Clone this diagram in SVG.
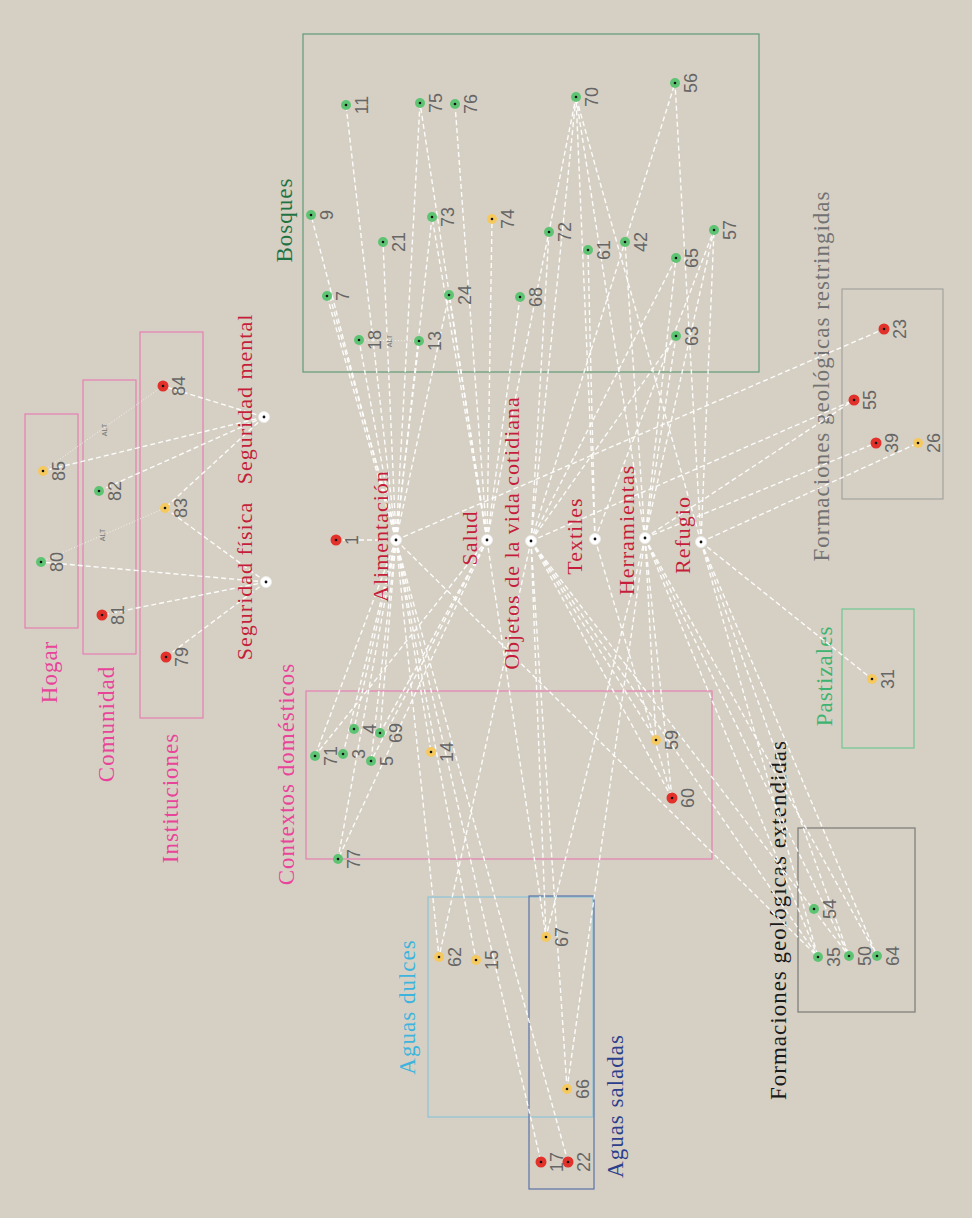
<svg xmlns="http://www.w3.org/2000/svg" width="972" height="1218" viewBox="0 0 972 1218">
<style>
.e{stroke:#ffffff;stroke-width:1.4;stroke-dasharray:5 3;fill:none;opacity:0.92}
.alt{stroke:#f2f2f2;stroke-width:1;stroke-dasharray:1 2;fill:none}
.altl{font-family:"Liberation Sans",Arial,sans-serif;font-size:7px;fill:#777;text-anchor:middle}
.num{font-family:"Liberation Sans",Arial,sans-serif;font-size:18px;fill:#666;text-anchor:middle}
.hl{font-family:"Liberation Serif","Times New Roman",serif;font-size:22px;fill:#c41e3a;letter-spacing:1px;text-anchor:middle}
.cl{font-family:"Liberation Serif","Times New Roman",serif;font-size:23px;letter-spacing:1px;text-anchor:middle}
.box{fill:none;stroke-width:1.2}
.g{fill:#5ec473}.r{fill:#e2312a}.y{fill:#f6c95e}.d{fill:#111}
.hub{fill:#fff;stroke:#eeeeee;stroke-width:0.8}
</style>
<rect x="0" y="0" width="972" height="1218" fill="#d6d0c4"/>

<g id="boxes">
<rect id="box-bosques" class="box" x="303" y="34" width="456" height="338" stroke="#5f9b77"/>
<rect id="box-hogar" class="box" x="25" y="414" width="53" height="214" stroke="#e77fb3"/>
<rect id="box-comunidad" class="box" x="83" y="380" width="53" height="274" stroke="#e77fb3"/>
<rect id="box-instituciones" class="box" x="140" y="332" width="63" height="386" stroke="#e77fb3"/>
<rect id="box-contextos" class="box" x="306" y="691" width="406" height="168" stroke="#e77fb3"/>
<rect id="box-dulces" class="box" x="428" y="897" width="165" height="220" stroke="#8cc4d8"/>
<rect id="box-saladas" class="box" x="529" y="896" width="65" height="293" stroke="#5b74a8"/>
<rect id="box-restringidas" class="box" x="842" y="289" width="101" height="210" stroke="#a3a3a0"/>
<rect id="box-pastizales" class="box" x="842" y="609" width="72" height="139" stroke="#6fc792"/>
<rect id="box-extendidas" class="box" x="798" y="828" width="117" height="184" stroke="#7a7a78"/>
</g>

<g id="category-labels">
<text class="cl" fill="#1f7343" transform="translate(291.5,220) rotate(-90)">Bosques</text>
<text class="cl" fill="#e8449a" transform="translate(57,672) rotate(-90)">Hogar</text>
<text class="cl" fill="#e8449a" transform="translate(114,724) rotate(-90)">Comunidad</text>
<text class="cl" fill="#e8449a" transform="translate(178,798) rotate(-90)">Instituciones</text>
<text class="cl" fill="#e8449a" transform="translate(294,774) rotate(-90)">Contextos domésticos</text>
<text class="cl" fill="#3db4dd" transform="translate(415,1007) rotate(-90)">Aguas dulces</text>
<text class="cl" fill="#2c3f8c" transform="translate(623,1106) rotate(-90)">Aguas saladas</text>
<text class="cl" fill="#3db371" transform="translate(832,676) rotate(-90)">Pastizales</text>
<text class="cl" fill="#727272" transform="translate(829,376) rotate(-90)">Formaciones geológicas restringidas</text>
<text class="cl" fill="#1a1a1a" transform="translate(786,920) rotate(-90)">Formaciones geológicas extendidas</text>
</g>

<g id="connectors">
<line class="alt" x1="43" y1="471" x2="163" y2="386"/>
<line class="alt" x1="41" y1="562" x2="165" y2="508"/>
<line class="alt" x1="359" y1="340" x2="419" y2="341"/>
<line class="e" x1="264" y1="417" x2="163" y2="386"/>
<line class="e" x1="264" y1="417" x2="43" y2="471"/>
<line class="e" x1="264" y1="417" x2="99" y2="491"/>
<line class="e" x1="264" y1="417" x2="165" y2="508"/>
<line class="e" x1="266" y1="582" x2="41" y2="562"/>
<line class="e" x1="266" y1="582" x2="102" y2="615"/>
<line class="e" x1="266" y1="582" x2="165" y2="508"/>
<line class="e" x1="266" y1="582" x2="166" y2="657"/>
<line class="e" x1="396" y1="540" x2="336" y2="540"/>
<line class="e" x1="396" y1="540" x2="311" y2="215"/>
<line class="e" x1="396" y1="540" x2="346" y2="105"/>
<line class="e" x1="396" y1="540" x2="327" y2="296"/>
<line class="e" x1="398" y1="540" x2="330" y2="297"/>
<line class="e" x1="396" y1="540" x2="359" y2="340"/>
<line class="e" x1="396" y1="540" x2="419" y2="341"/>
<line class="e" x1="396" y1="540" x2="383" y2="242"/>
<line class="e" x1="396" y1="540" x2="432" y2="217"/>
<line class="e" x1="396" y1="540" x2="449" y2="295"/>
<line class="e" x1="396" y1="540" x2="420" y2="103"/>
<line class="e" x1="396" y1="540" x2="315" y2="756"/>
<line class="e" x1="396" y1="540" x2="343" y2="754"/>
<line class="e" x1="396" y1="540" x2="354" y2="729"/>
<line class="e" x1="396" y1="540" x2="380" y2="733"/>
<line class="e" x1="396" y1="540" x2="371" y2="761"/>
<line class="e" x1="396" y1="540" x2="338" y2="859"/>
<line class="e" x1="396" y1="540" x2="431" y2="752"/>
<line class="e" x1="396" y1="540" x2="439" y2="957"/>
<line class="e" x1="396" y1="540" x2="476" y2="960"/>
<line class="e" x1="396" y1="540" x2="541" y2="1162"/>
<line class="e" x1="396" y1="540" x2="568" y2="1162"/>
<line class="e" x1="396" y1="540" x2="818" y2="957"/>
<line class="e" x1="396" y1="540" x2="884" y2="329"/>
<line class="e" x1="487" y1="540" x2="420" y2="103"/>
<line class="e" x1="487" y1="540" x2="455" y2="104"/>
<line class="e" x1="487" y1="540" x2="432" y2="217"/>
<line class="e" x1="487" y1="540" x2="449" y2="295"/>
<line class="e" x1="487" y1="540" x2="492" y2="219"/>
<line class="e" x1="487" y1="540" x2="520" y2="297"/>
<line class="e" x1="487" y1="540" x2="576" y2="97"/>
<line class="e" x1="487" y1="540" x2="315" y2="756"/>
<line class="e" x1="487" y1="540" x2="380" y2="733"/>
<line class="e" x1="487" y1="540" x2="371" y2="761"/>
<line class="e" x1="487" y1="540" x2="338" y2="859"/>
<line class="e" x1="487" y1="540" x2="546" y2="937"/>
<line class="e" x1="531" y1="541" x2="576" y2="97"/>
<line class="e" x1="531" y1="541" x2="549" y2="232"/>
<line class="e" x1="531" y1="541" x2="675" y2="83"/>
<line class="e" x1="531" y1="541" x2="676" y2="258"/>
<line class="e" x1="531" y1="541" x2="676" y2="336"/>
<line class="e" x1="531" y1="541" x2="439" y2="957"/>
<line class="e" x1="531" y1="541" x2="546" y2="937"/>
<line class="e" x1="531" y1="541" x2="567" y2="1089"/>
<line class="e" x1="531" y1="541" x2="656" y2="740"/>
<line class="e" x1="531" y1="541" x2="672" y2="798"/>
<line class="e" x1="531" y1="541" x2="818" y2="957"/>
<line class="e" x1="531" y1="541" x2="849" y2="956"/>
<line class="e" x1="531" y1="541" x2="854" y2="400"/>
<line class="e" x1="595" y1="539" x2="576" y2="97"/>
<line class="e" x1="595" y1="539" x2="588" y2="250"/>
<line class="e" x1="595" y1="539" x2="714" y2="230"/>
<line class="e" x1="595" y1="539" x2="672" y2="798"/>
<line class="e" x1="645" y1="538" x2="576" y2="97"/>
<line class="e" x1="645" y1="538" x2="625" y2="242"/>
<line class="e" x1="645" y1="538" x2="714" y2="230"/>
<line class="e" x1="645" y1="538" x2="676" y2="258"/>
<line class="e" x1="645" y1="538" x2="676" y2="336"/>
<line class="e" x1="645" y1="538" x2="546" y2="937"/>
<line class="e" x1="645" y1="538" x2="567" y2="1089"/>
<line class="e" x1="645" y1="538" x2="656" y2="740"/>
<line class="e" x1="645" y1="538" x2="672" y2="798"/>
<line class="e" x1="645" y1="538" x2="818" y2="957"/>
<line class="e" x1="645" y1="538" x2="849" y2="956"/>
<line class="e" x1="645" y1="538" x2="877" y2="956"/>
<line class="e" x1="645" y1="538" x2="876" y2="443"/>
<line class="e" x1="645" y1="538" x2="854" y2="400"/>
<line class="e" x1="701" y1="542" x2="576" y2="97"/>
<line class="e" x1="701" y1="542" x2="675" y2="83"/>
<line class="e" x1="701" y1="542" x2="714" y2="230"/>
<line class="e" x1="701" y1="542" x2="872" y2="679"/>
<line class="e" x1="701" y1="542" x2="918" y2="443"/>
<line class="e" x1="701" y1="542" x2="818" y2="957"/>
<line class="e" x1="701" y1="542" x2="849" y2="956"/>
<line class="e" x1="701" y1="542" x2="877" y2="956"/>
</g>

<g id="alt-labels">
<text class="altl" transform="translate(107,430) rotate(-90)">ALT</text>
<text class="altl" transform="translate(105,535) rotate(-90)">ALT</text>
<text class="altl" transform="translate(392,341) rotate(-90)">ALT</text>
</g>

<g id="hubs">
<g id="hub-seguridad-mental"><circle class="hub" cx="264" cy="417" r="5.5"/><circle class="d" cx="264" cy="417" r="1.4"/><text class="hl" transform="translate(252,399) rotate(-90)">Seguridad mental</text></g>
<g id="hub-seguridad-fisica"><circle class="hub" cx="266" cy="582" r="5.5"/><circle class="d" cx="266" cy="582" r="1.4"/><text class="hl" transform="translate(252,581) rotate(-90)">Seguridad física</text></g>
<g id="hub-alimentacion"><circle class="hub" cx="396" cy="540" r="5.5"/><circle class="d" cx="396" cy="540" r="1.4"/><text class="hl" transform="translate(388,536) rotate(-90)">Alimentación</text></g>
<g id="hub-salud"><circle class="hub" cx="487" cy="540" r="5.5"/><circle class="d" cx="487" cy="540" r="1.4"/><text class="hl" transform="translate(477,538) rotate(-90)">Salud</text></g>
<g id="hub-objetos"><circle class="hub" cx="531" cy="541" r="5.5"/><circle class="d" cx="531" cy="541" r="1.4"/><text class="hl" transform="translate(519,533) rotate(-90)">Objetos de la vida cotidiana</text></g>
<g id="hub-textiles"><circle class="hub" cx="595" cy="539" r="5.5"/><circle class="d" cx="595" cy="539" r="1.4"/><text class="hl" transform="translate(582,536) rotate(-90)">Textiles</text></g>
<g id="hub-herramientas"><circle class="hub" cx="645" cy="538" r="5.5"/><circle class="d" cx="645" cy="538" r="1.4"/><text class="hl" transform="translate(634,530) rotate(-90)">Herramientas</text></g>
<g id="hub-refugio"><circle class="hub" cx="701" cy="542" r="5.5"/><circle class="d" cx="701" cy="542" r="1.4"/><text class="hl" transform="translate(690,535) rotate(-90)">Refugio</text></g>
</g>

<g id="nodes">
<g id="n85"><circle class="y" cx="43" cy="471" r="5"/><circle class="d" cx="43" cy="471" r="1.3"/><text class="num" transform="translate(65,471) rotate(-90)">85</text></g>
<g id="n80"><circle class="g" cx="41" cy="562" r="5"/><circle class="d" cx="41" cy="562" r="1.3"/><text class="num" transform="translate(63,562) rotate(-90)">80</text></g>
<g id="n82"><circle class="g" cx="99" cy="491" r="5"/><circle class="d" cx="99" cy="491" r="1.3"/><text class="num" transform="translate(121,491) rotate(-90)">82</text></g>
<g id="n81"><circle class="r" cx="102" cy="615" r="5.5"/><circle class="d" cx="102" cy="615" r="1.3"/><text class="num" transform="translate(124,615) rotate(-90)">81</text></g>
<g id="n84"><circle class="r" cx="163" cy="386" r="5.5"/><circle class="d" cx="163" cy="386" r="1.3"/><text class="num" transform="translate(185,386) rotate(-90)">84</text></g>
<g id="n83"><circle class="y" cx="165" cy="508" r="5"/><circle class="d" cx="165" cy="508" r="1.3"/><text class="num" transform="translate(187,508) rotate(-90)">83</text></g>
<g id="n79"><circle class="r" cx="166" cy="657" r="5.5"/><circle class="d" cx="166" cy="657" r="1.3"/><text class="num" transform="translate(188,657) rotate(-90)">79</text></g>
<g id="n1"><circle class="r" cx="336" cy="540" r="5.5"/><circle class="d" cx="336" cy="540" r="1.3"/><text class="num" transform="translate(358,540) rotate(-90)">1</text></g>
<g id="n11"><circle class="g" cx="346" cy="105" r="5"/><circle class="d" cx="346" cy="105" r="1.3"/><text class="num" transform="translate(368,105) rotate(-90)">11</text></g>
<g id="n75"><circle class="g" cx="420" cy="103" r="5"/><circle class="d" cx="420" cy="103" r="1.3"/><text class="num" transform="translate(442,103) rotate(-90)">75</text></g>
<g id="n76"><circle class="g" cx="455" cy="104" r="5"/><circle class="d" cx="455" cy="104" r="1.3"/><text class="num" transform="translate(477,104) rotate(-90)">76</text></g>
<g id="n70"><circle class="g" cx="576" cy="97" r="5"/><circle class="d" cx="576" cy="97" r="1.3"/><text class="num" transform="translate(598,97) rotate(-90)">70</text></g>
<g id="n56"><circle class="g" cx="675" cy="83" r="5"/><circle class="d" cx="675" cy="83" r="1.3"/><text class="num" transform="translate(697,83) rotate(-90)">56</text></g>
<g id="n9"><circle class="g" cx="311" cy="215" r="5"/><circle class="d" cx="311" cy="215" r="1.3"/><text class="num" transform="translate(333,215) rotate(-90)">9</text></g>
<g id="n73"><circle class="g" cx="432" cy="217" r="5"/><circle class="d" cx="432" cy="217" r="1.3"/><text class="num" transform="translate(454,217) rotate(-90)">73</text></g>
<g id="n74"><circle class="y" cx="492" cy="219" r="5"/><circle class="d" cx="492" cy="219" r="1.3"/><text class="num" transform="translate(514,219) rotate(-90)">74</text></g>
<g id="n21"><circle class="g" cx="383" cy="242" r="5"/><circle class="d" cx="383" cy="242" r="1.3"/><text class="num" transform="translate(405,242) rotate(-90)">21</text></g>
<g id="n72"><circle class="g" cx="549" cy="232" r="5"/><circle class="d" cx="549" cy="232" r="1.3"/><text class="num" transform="translate(571,232) rotate(-90)">72</text></g>
<g id="n61"><circle class="g" cx="588" cy="250" r="5"/><circle class="d" cx="588" cy="250" r="1.3"/><text class="num" transform="translate(610,250) rotate(-90)">61</text></g>
<g id="n42"><circle class="g" cx="625" cy="242" r="5"/><circle class="d" cx="625" cy="242" r="1.3"/><text class="num" transform="translate(647,242) rotate(-90)">42</text></g>
<g id="n65"><circle class="g" cx="676" cy="258" r="5"/><circle class="d" cx="676" cy="258" r="1.3"/><text class="num" transform="translate(698,258) rotate(-90)">65</text></g>
<g id="n57"><circle class="g" cx="714" cy="230" r="5"/><circle class="d" cx="714" cy="230" r="1.3"/><text class="num" transform="translate(736,230) rotate(-90)">57</text></g>
<g id="n7"><circle class="g" cx="327" cy="296" r="5"/><circle class="d" cx="327" cy="296" r="1.3"/><text class="num" transform="translate(349,296) rotate(-90)">7</text></g>
<g id="n24"><circle class="g" cx="449" cy="295" r="5"/><circle class="d" cx="449" cy="295" r="1.3"/><text class="num" transform="translate(471,295) rotate(-90)">24</text></g>
<g id="n68"><circle class="g" cx="520" cy="297" r="5"/><circle class="d" cx="520" cy="297" r="1.3"/><text class="num" transform="translate(542,297) rotate(-90)">68</text></g>
<g id="n18"><circle class="g" cx="359" cy="340" r="5"/><circle class="d" cx="359" cy="340" r="1.3"/><text class="num" transform="translate(381,340) rotate(-90)">18</text></g>
<g id="n13"><circle class="g" cx="419" cy="341" r="5"/><circle class="d" cx="419" cy="341" r="1.3"/><text class="num" transform="translate(441,341) rotate(-90)">13</text></g>
<g id="n63"><circle class="g" cx="676" cy="336" r="5"/><circle class="d" cx="676" cy="336" r="1.3"/><text class="num" transform="translate(698,336) rotate(-90)">63</text></g>
<g id="n71"><circle class="g" cx="315" cy="756" r="5"/><circle class="d" cx="315" cy="756" r="1.3"/><text class="num" transform="translate(337,756) rotate(-90)">71</text></g>
<g id="n3"><circle class="g" cx="343" cy="754" r="5"/><circle class="d" cx="343" cy="754" r="1.3"/><text class="num" transform="translate(365,754) rotate(-90)">3</text></g>
<g id="n4"><circle class="g" cx="354" cy="729" r="5"/><circle class="d" cx="354" cy="729" r="1.3"/><text class="num" transform="translate(376,729) rotate(-90)">4</text></g>
<g id="n69"><circle class="g" cx="380" cy="733" r="5"/><circle class="d" cx="380" cy="733" r="1.3"/><text class="num" transform="translate(402,733) rotate(-90)">69</text></g>
<g id="n5"><circle class="g" cx="371" cy="761" r="5"/><circle class="d" cx="371" cy="761" r="1.3"/><text class="num" transform="translate(393,761) rotate(-90)">5</text></g>
<g id="n14"><circle class="y" cx="431" cy="752" r="5"/><circle class="d" cx="431" cy="752" r="1.3"/><text class="num" transform="translate(453,752) rotate(-90)">14</text></g>
<g id="n77"><circle class="g" cx="338" cy="859" r="5"/><circle class="d" cx="338" cy="859" r="1.3"/><text class="num" transform="translate(360,859) rotate(-90)">77</text></g>
<g id="n59"><circle class="y" cx="656" cy="740" r="5"/><circle class="d" cx="656" cy="740" r="1.3"/><text class="num" transform="translate(678,740) rotate(-90)">59</text></g>
<g id="n60"><circle class="r" cx="672" cy="798" r="5.5"/><circle class="d" cx="672" cy="798" r="1.3"/><text class="num" transform="translate(694,798) rotate(-90)">60</text></g>
<g id="n62"><circle class="y" cx="439" cy="957" r="5"/><circle class="d" cx="439" cy="957" r="1.3"/><text class="num" transform="translate(461,957) rotate(-90)">62</text></g>
<g id="n15"><circle class="y" cx="476" cy="960" r="5"/><circle class="d" cx="476" cy="960" r="1.3"/><text class="num" transform="translate(498,960) rotate(-90)">15</text></g>
<g id="n67"><circle class="y" cx="546" cy="937" r="5"/><circle class="d" cx="546" cy="937" r="1.3"/><text class="num" transform="translate(568,937) rotate(-90)">67</text></g>
<g id="n66"><circle class="y" cx="567" cy="1089" r="5"/><circle class="d" cx="567" cy="1089" r="1.3"/><text class="num" transform="translate(589,1089) rotate(-90)">66</text></g>
<g id="n17"><circle class="r" cx="541" cy="1162" r="5.5"/><circle class="d" cx="541" cy="1162" r="1.3"/><text class="num" transform="translate(563,1162) rotate(-90)">17</text></g>
<g id="n22"><circle class="r" cx="568" cy="1162" r="5.5"/><circle class="d" cx="568" cy="1162" r="1.3"/><text class="num" transform="translate(590,1162) rotate(-90)">22</text></g>
<g id="n23"><circle class="r" cx="884" cy="329" r="5.5"/><circle class="d" cx="884" cy="329" r="1.3"/><text class="num" transform="translate(906,329) rotate(-90)">23</text></g>
<g id="n55"><circle class="r" cx="854" cy="400" r="5.5"/><circle class="d" cx="854" cy="400" r="1.3"/><text class="num" transform="translate(876,400) rotate(-90)">55</text></g>
<g id="n39"><circle class="r" cx="876" cy="443" r="5.5"/><circle class="d" cx="876" cy="443" r="1.3"/><text class="num" transform="translate(898,443) rotate(-90)">39</text></g>
<g id="n26"><circle class="y" cx="918" cy="443" r="5"/><circle class="d" cx="918" cy="443" r="1.3"/><text class="num" transform="translate(940,443) rotate(-90)">26</text></g>
<g id="n31"><circle class="y" cx="872" cy="679" r="5"/><circle class="d" cx="872" cy="679" r="1.3"/><text class="num" transform="translate(894,679) rotate(-90)">31</text></g>
<g id="n54"><circle class="g" cx="814" cy="909" r="5"/><circle class="d" cx="814" cy="909" r="1.3"/><text class="num" transform="translate(836,909) rotate(-90)">54</text></g>
<g id="n35"><circle class="g" cx="818" cy="957" r="5"/><circle class="d" cx="818" cy="957" r="1.3"/><text class="num" transform="translate(840,957) rotate(-90)">35</text></g>
<g id="n50"><circle class="g" cx="849" cy="956" r="5"/><circle class="d" cx="849" cy="956" r="1.3"/><text class="num" transform="translate(871,956) rotate(-90)">50</text></g>
<g id="n64"><circle class="g" cx="877" cy="956" r="5"/><circle class="d" cx="877" cy="956" r="1.3"/><text class="num" transform="translate(899,956) rotate(-90)">64</text></g>
</g>
</svg>
